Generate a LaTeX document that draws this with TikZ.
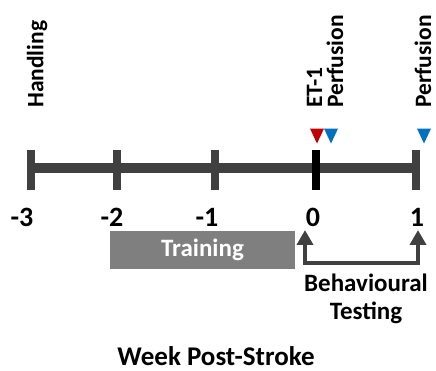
\documentclass[tikz,border=0pt]{standalone}
\usepackage{fontspec}
\setmainfont{Carlito}
\usepackage{tikz}
\usetikzlibrary{arrows.meta,shapes.geometric,positioning,calc}
\usepackage{xcolor}
\definecolor{axisgray}{HTML}{404040}
\definecolor{boxgray}{HTML}{7F7F7F}
\definecolor{etred}{HTML}{C00000}
\definecolor{perfblue}{HTML}{0070C0}

\tikzset{
  lbl/.style={font=\bfseries\fontsize{25}{26}\selectfont, inner sep=0pt},
  toplbl/.style={font=\bfseries\fontsize{23.5}{24}\selectfont, inner sep=0pt, rotate=90, anchor=west},
  num/.style={font=\bfseries\fontsize{28}{30}\selectfont, inner sep=0pt},
  tick/.style={line width=8pt, axisgray},
  marker/.style={isosceles triangle, isosceles triangle apex angle=55,
    shape border rotate=270, inner sep=0pt, minimum height=15pt, minimum width=14pt,
    isosceles triangle stretches},
}

\begin{document}
\begin{tikzpicture}[x=1pt, y=-1pt]
            \useasboundingbox (0,0) rectangle (436,371);
            % Timeline
            \coordinate (L) at (27,168.5);
            \coordinate (R) at (419,168.5);
            \draw[line width=10pt, axisgray] (L) -- (R);
            \coordinate (t3) at (30.5,168.5);
            \coordinate (t2) at (117,168.5);
            \coordinate (t1) at (215,168.5);
            \coordinate (t0) at (315.5,168.5);
            \coordinate (tp) at (415.5,168.5);
            \foreach \t in {t3,t2,t1,tp}
                \draw[tick] ($(\t)+(0,-18.5)$) -- ($(\t)+(0,22)$);
            \draw[tick, black] ($(t0)+(0,-18.5)$) -- ($(t0)+(0,22)$);
            
            % Week numbers
            \node[num] (n3) at (22,217) {-3};
            \node[num] (n2) at (112,217) {-2};
            \node[num] (n1) at (207,217) {-1};
            \node[num] (n0) at (313,217) {0};
            \node[num] (np) at (417,217) {1};
            
            % Events
            \node[toplbl] (hand) at (37,108) {Handling};
            \node[toplbl] (et) at (314.5,108) {ET-1};
            \node[toplbl] (perf1) at (335,108) {Perfusion};
            \node[toplbl] (perf2) at (423,108) {Perfusion};
            \node[marker, fill=etred] (m1) at (317,133) {};
            \node[marker, fill=perfblue] (m2) at (331,133) {};
            \node[marker, fill=perfblue] (m3) at (424,133) {};
            
            % Training and testing
            \node[draw=none, fill=boxgray, minimum width=185pt, minimum height=38pt,
                  inner sep=0pt] (train) at (202.5,250) {};
            \node[lbl, text=white] at (train) {Training};
            \coordinate (a0) at (305,230);
            \coordinate (a1) at (418,230);
            \draw[line width=4pt, axisgray, {Triangle[width=16pt,length=15pt]}-{Triangle[width=16pt,length=15pt]}]
                (a0) -- ($(a0)+(0,33)$) -| (a1);
            \node[lbl, align=center] (test) at (366,299) {Behavioural\\[2pt]Testing};
            
            \node[lbl, font=\bfseries\fontsize{27}{28}\selectfont] (week) at (216,356) {Week Post-Stroke};
        \end{tikzpicture}
\end{document}
